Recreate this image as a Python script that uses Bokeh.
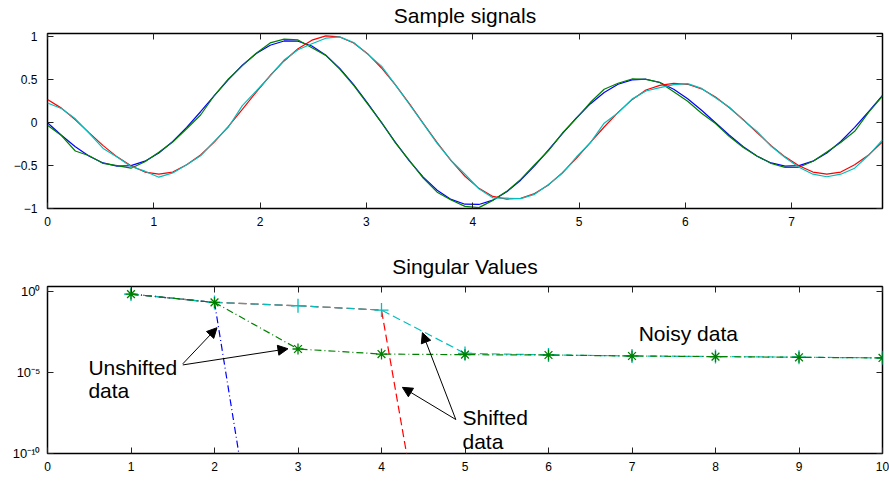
from bokeh.plotting import figure
from bokeh.layouts import column
from bokeh.models import (Range1d, LinearAxis, FixedTicker, Arrow, NormalHead,
                          Label, CustomJSTickFormatter)
from bokeh.embed import file_html
from bokeh.resources import INLINE

FONT = "Liberation Sans"

# ---------------- data: sample signals ----------------
t = [0.0, 0.1309, 0.2618, 0.3927, 0.5236, 0.6545, 0.7854, 0.9163, 1.0472, 1.1781, 1.309,
     1.4399, 1.5708, 1.7017, 1.8326, 1.9635, 2.0944, 2.2253, 2.3562, 2.4871, 2.618, 2.7489,
     2.8798, 3.0107, 3.1416, 3.2725, 3.4034, 3.5343, 3.6652, 3.7961, 3.927, 4.0579, 4.1888,
     4.3197, 4.4506, 4.5815, 4.7124, 4.8433, 4.9742, 5.1051, 5.236, 5.3669, 5.4978, 5.6287,
     5.7596, 5.8905, 6.0214, 6.1523, 6.2832, 6.4141, 6.545, 6.6759, 6.8068, 6.9377, 7.0686,
     7.1995, 7.3304, 7.4613, 7.5922, 7.7231, 7.854]

unshifted = [0, -0.146, -0.280, -0.391, -0.469, -0.507, -0.500, -0.448, -0.353, -0.219, -0.055,
             0.128, 0.318, 0.503, 0.670, 0.806, 0.903, 0.953, 0.950, 0.894, 0.787, 0.634, 0.445,
             0.229, 0.0, -0.229, -0.445, -0.634, -0.787, -0.894, -0.950, -0.953, -0.903, -0.806,
             -0.670, -0.503, -0.318, -0.128, 0.055, 0.219, 0.353, 0.448, 0.500, 0.507, 0.469,
             0.391, 0.280, 0.146, 0.0, -0.146, -0.280, -0.391, -0.469, -0.507, -0.500, -0.448,
             -0.353, -0.219, -0.055, 0.128, 0.318]

unshifted_noisy = [-0.03, -0.15, -0.33, -0.385, -0.475, -0.50, -0.53, -0.455, -0.345, -0.225,
                   -0.07, 0.09, 0.32, 0.51, 0.665, 0.81, 0.93, 0.975, 0.965, 0.875, 0.785, 0.625,
                   0.435, 0.22, 0.005, -0.235, -0.44, -0.645, -0.81, -0.90, -0.975, -0.99, -0.905,
                   -0.80, -0.66, -0.49, -0.325, -0.12, 0.05, 0.235, 0.39, 0.46, 0.51, 0.505, 0.47,
                   0.36, 0.25, 0.11, -0.01, -0.16, -0.29, -0.39, -0.475, -0.52, -0.52, -0.45,
                   -0.34, -0.23, -0.10, 0.12, 0.31]

shifted = [0.27, 0.17, 0.035, -0.118, -0.267, -0.398, -0.501, -0.575, -0.60, -0.575, -0.491,
           -0.376, -0.223, -0.042, 0.156, 0.358, 0.550, 0.720, 0.862, 0.962, 1.012, 1.0, 0.930,
           0.805, 0.638, 0.442, 0.223, -0.007, -0.233, -0.443, -0.624, -0.765, -0.859, -0.890,
           -0.882, -0.825, -0.725, -0.582, -0.414, -0.232, -0.050, 0.121, 0.269, 0.382, 0.435,
           0.458, 0.448, 0.395, 0.300, 0.175, 0.035, -0.118, -0.267, -0.398, -0.501, -0.575,
           -0.60, -0.575, -0.491, -0.376, -0.223]

shifted_noisy = [0.23, 0.165, 0.045, -0.125, -0.30, -0.40, -0.51, -0.565, -0.635, -0.585, -0.49,
                 -0.385, -0.215, -0.05, 0.20, 0.37, 0.545, 0.73, 0.85, 0.92, 0.985, 1.0, 0.935,
                 0.80, 0.66, 0.44, 0.215, -0.01, -0.24, -0.44, -0.60, -0.77, -0.875, -0.88,
                 -0.885, -0.835, -0.72, -0.59, -0.40, -0.235, -0.005, 0.115, 0.275, 0.37, 0.41,
                 0.445, 0.455, 0.40, 0.29, 0.18, 0.03, -0.105, -0.275, -0.405, -0.52, -0.60,
                 -0.63, -0.60, -0.53, -0.38, -0.20]

top_xticks = [0, 1, 2, 3, 4, 5, 6, 7]
top_yticks = [-1, -0.5, 0, 0.5, 1]
top_ylabels = ["\u22121", "\u22120.5", "0", "0.5", "1"]

# ---------------- data: singular values ----------------
sv_index = [1, 2, 3, 4, 5, 6, 7, 8, 9, 10]
sv_unshifted = [0.72, 0.22, 2e-33, 1.5e-33, 1.2e-33, 1e-33, 9e-34, 8e-34, 7e-34, 6e-34]
sv_shifted = [0.72, 0.22, 0.137, 0.074, 2e-31, 1.5e-31, 1.2e-31, 1e-31, 9e-32, 8e-32]
sv_unshifted_noisy = [0.72, 0.22, 2.9e-4, 1.41e-4, 1.29e-4, 1.23e-4, 1.07e-4, 9.8e-5, 8.9e-5, 8.1e-5]
sv_shifted_noisy = [0.72, 0.22, 0.137, 0.074, 1.55e-4, 1.25e-4, 1.08e-4, 9.9e-5, 9e-5, 8.2e-5]

bot_xticks = [0, 1, 2, 3, 4, 5, 6, 7, 8, 9, 10]
bot_yticks = [1e-10, 1e-5, 1]
bot_ylabels = ["10\u207b\u00b9\u2070", "10\u207b\u2075", "10\u2070"]

BLUE, GREEN, RED, CYAN = "#0000ff", "#008000", "#ff0000", "#00bfbf"

near_code = """
let best = 0, d = Infinity;
for (let i = 0; i < vals.length; i++) {
  const e = LOGMODE ? Math.abs(Math.log10(tick) - Math.log10(vals[i])) : Math.abs(tick - vals[i]);
  if (e < d) { d = e; best = i; }
}
return labs[best];
"""


def fmt(vals, labs, log=False):
    return CustomJSTickFormatter(args=dict(vals=vals, labs=labs),
                                 code=near_code.replace("LOGMODE", "true" if log else "false"))


def style(p, xt, yt, ylabs, title, log=False, title_gap=9):
    p.xgrid.visible = False
    p.ygrid.visible = False
    p.outline_line_color = "black"
    p.outline_line_width = 1.5
    p.outline_line_alpha = 1.0
    p.xaxis.ticker = FixedTicker(ticks=xt)
    p.yaxis.ticker = FixedTicker(ticks=yt)
    p.yaxis.formatter = fmt(yt, ylabs, log)
    for ax in list(p.xaxis) + list(p.yaxis):
        ax.axis_line_color = None
        ax.major_tick_in = 6
        ax.major_tick_out = 0
        ax.major_tick_line_color = "#222222"
        ax.minor_tick_line_color = None
        ax.major_label_text_font = FONT
        ax.major_label_text_font_size = "12px"
        ax.major_label_text_color = "black"
    p.xaxis.major_label_standoff = 8
    p.yaxis.major_label_standoff = 10
    # box ticks on the top and right sides; the title sits on the top axis
    top = LinearAxis(ticker=FixedTicker(ticks=xt))
    right = LinearAxis(ticker=FixedTicker(ticks=yt))
    for ax in (top, right):
        ax.axis_line_color = None
        ax.major_tick_in = 6
        ax.major_tick_out = 0
        ax.major_tick_line_color = "#222222"
        ax.minor_tick_line_color = None
        ax.major_label_text_font_size = "1px"
        ax.major_label_text_color = None
        ax.major_label_standoff = 0
    top.axis_label = title
    top.axis_label_text_font = FONT
    top.axis_label_text_font_size = "21px"
    top.axis_label_text_font_style = "normal"
    top.axis_label_text_color = "black"
    top.axis_label_standoff = title_gap
    p.add_layout(top, "above")
    p.add_layout(right, "right")


def text(p, x, y, s, size="21px", align="left"):
    p.add_layout(Label(x=x, y=y, text=s, text_font=FONT, text_font_size=size,
                       text_color="black", text_baseline="alphabetic", text_align=align))


# ---------------- top figure ----------------
p1 = figure(width=889, height=240, x_range=Range1d(0, 7.854), y_range=Range1d(-1.0, 1.04),
            output_backend="svg", toolbar_location=None,
            min_border_left=47, min_border_right=7, min_border_top=32, min_border_bottom=32)
style(p1, top_xticks, top_yticks, top_ylabels, "Sample signals", title_gap=7)
p1.line(t, unshifted, line_color=BLUE, line_width=1.2)
p1.line(t, unshifted_noisy, line_color=GREEN, line_width=1.2)
p1.line(t, shifted, line_color=RED, line_width=1.2)
p1.line(t, shifted_noisy, line_color=CYAN, line_width=1.2)

# ---------------- bottom figure ----------------
p2 = figure(width=889, height=243, x_range=Range1d(0, 10), y_range=Range1d(1e-10, 2.12),
            y_axis_type="log", output_backend="svg", toolbar_location=None,
            min_border_left=47, min_border_right=7, min_border_top=46, min_border_bottom=30)
style(p2, bot_xticks, bot_yticks, bot_ylabels, "Singular Values", log=True, title_gap=9)
p2.yaxis[0].major_label_text_font_size = "13px"
p2.yaxis[0].major_label_standoff = 7

p2.line(sv_index, sv_unshifted, line_color=BLUE, line_width=1.2, line_dash="7 3 1 3")
p2.line(sv_index, sv_shifted, line_color=RED, line_width=1.2, line_dash="8 4")
p2.line(sv_index, sv_shifted_noisy, line_color=CYAN, line_width=1.2, line_dash="8 4")
p2.scatter(sv_index, sv_shifted_noisy, marker="cross", size=14, line_color=CYAN, line_width=1.3)
p2.line(sv_index, sv_unshifted_noisy, line_color=GREEN, line_width=1.2, line_dash="7 3 1 3")
p2.scatter(sv_index, sv_unshifted_noisy, marker="asterisk", size=11, line_color=GREEN, line_width=1.3)


# annotations
def arrow(x0, y0, x1, y1):
    p2.add_layout(Arrow(end=NormalHead(size=10, fill_color="black", line_color="black", line_width=1),
                        x_start=x0, y_start=y0, x_end=x1, y_end=y1,
                        line_color="black", line_width=1))


arrow(1.62, 3.5e-5, 2.03, 6.0e-3)
arrow(1.62, 3.0e-5, 2.88, 3.0e-4)
arrow(4.89, 1.26e-8, 4.25, 1.23e-6)
arrow(4.89, 1.26e-8, 4.49, 2.95e-3)

for x, y, s in [(0.49, 2.14e-5, "Unshifted"), (0.49, 7.76e-7, "data"),
                (4.97, 1.74e-8, "Shifted"), (4.97, 5.75e-10, "data"),
                (7.08, 2.69e-3, "Noisy data")]:
    text(p2, x, y, s)

layout = column(p1, p2)
open("out.html", "w").write(file_html(layout, INLINE))
